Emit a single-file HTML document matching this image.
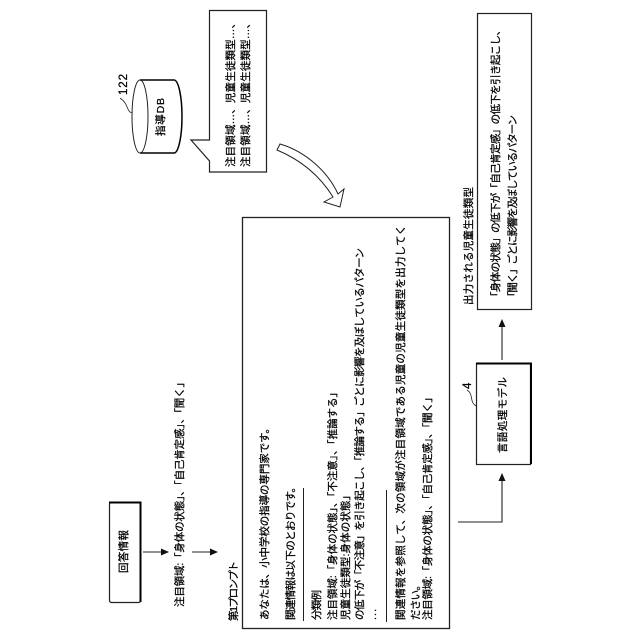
<!DOCTYPE html>
<html><head><meta charset="utf-8"><style>
html,body{margin:0;padding:0;background:#fff}
svg{display:block}
text{font-family:"Liberation Sans","Noto Sans CJK JP",sans-serif;fill:#000;stroke:#000;stroke-width:.25}
</style></head><body>
<svg width="640" height="640" viewBox="0 0 640 640" xmlns="http://www.w3.org/2000/svg">
<defs><marker id="a" markerWidth="8" markerHeight="8" refX="7" refY="3.5" orient="auto" markerUnits="userSpaceOnUse"><path d="M0,0L8,3.5L0,7Z" fill="#111"/></marker></defs>
<g fill="none" stroke="#222">
<rect x="242.5" y="217.500" width="207" height="411" stroke-width="1.3"/>
<rect x="477.5" y="13.500" width="54" height="296" stroke-width="1.2"/>
<rect x="476.5" y="363.500" width="54" height="101" stroke-width="1.2"/>
<path d="M476,363.500H531V464" stroke="#000" stroke-width="2"/>
<rect x="109.500" y="502.500" width="31" height="100" rx="2" stroke-width="1.2"/>
<path d="M109,502.500H140.500V602" stroke="#000" stroke-width="2"/>
<path d="M209.500,10.500H266.500V172H209.500V161L191,140H209.500Z" stroke-width="1.2"/>
<path d="M140,80H174A8,36.500 0 0 1 174,153H140" stroke="#000" stroke-width="1.5"/>
<ellipse cx="140" cy="116.500" rx="8" ry="36.500" stroke-width="1"/>
<path d="M132,113C126,111 129,104 120,98" stroke-width=".8"/>
<path d="M476,406C469,402 474,394 467,390" stroke-width=".8"/>
<path d="M303.500,488V621M386.500,490V622" stroke-width="1"/>
<path d="M502,360V320" stroke-width="1.1" marker-end="url(#a)"/>
<path d="M458,522H502V474" stroke-width="1.1" marker-end="url(#a)"/>
<path d="M143,552H168" stroke-width="1.1" marker-end="url(#a)"/>
<path d="M192,552H217" stroke-width="1.1" marker-end="url(#a)"/>
<path d="M280,144C304,151 327,170 338,194L344,189L340,207L324,202L333,197C320,176 301,160 277,150Z" fill="#fff" stroke-width="1"/>
</g>
<g font-size="10.500">
<text transform="translate(237,621) rotate(-90)" textLength="60" lengthAdjust="spacing">第1プロンプト</text>
<text transform="translate(268,620) rotate(-90)" textLength="197" lengthAdjust="spacing">あなたは、小中学校の指導の専門家です。</text>
<text transform="translate(294,620) rotate(-90)" textLength="138" lengthAdjust="spacing">関連情報は以下のとおりです。</text>
<text transform="translate(320,620) rotate(-90)" textLength="30" lengthAdjust="spacing">分類例</text>
<text transform="translate(336,620) rotate(-90)" textLength="233" lengthAdjust="spacing">注目領域:「身体の状態」、「不注意」、「推論する」</text>
<text transform="translate(349,620) rotate(-90)" textLength="130" lengthAdjust="spacing">児童生徒類型:身体の状態」</text>
<text transform="translate(363,620) rotate(-90)" textLength="372" lengthAdjust="spacing">の低下が「不注意」を引き起こし、「推論する」ごとに影響を及ぼしているパターン</text>
<text transform="translate(376,620) rotate(-90)" textLength="11" lengthAdjust="spacing">...</text>
<text transform="translate(404,620) rotate(-90)" textLength="395" lengthAdjust="spacing">関連情報を参照して、次の領域が注目領域である児童の児童生徒類型を出力してく</text>
<text transform="translate(419,620) rotate(-90)" textLength="40" lengthAdjust="spacing">ださい。</text>
<text transform="translate(431,620) rotate(-90)" textLength="228" lengthAdjust="spacing">注目領域:「身体の状態」、「自己肯定感」、「聞く」</text>
<text transform="translate(183,607) rotate(-90)" textLength="230" lengthAdjust="spacing">注目領域:「身体の状態」、「自己肯定感」、「聞く」</text>
<text transform="translate(472,305) rotate(-90)" textLength="118" lengthAdjust="spacing">出力される児童生徒類型</text>
<text transform="translate(499,302) rotate(-90)" textLength="277" lengthAdjust="spacing">「身体の状態」の低下が「自己肯定感」の低下を引き起こし、</text>
<text transform="translate(516,302) rotate(-90)" textLength="187" lengthAdjust="spacing">「聞く」ごとに影響を及ぼしているパターン</text>
<text transform="translate(506,453) rotate(-90)" textLength="76" lengthAdjust="spacing">言語処理モデル</text>
<text transform="translate(127,573) rotate(-90)" textLength="43" lengthAdjust="spacing">回答情報</text>
<text transform="translate(164,136) rotate(-90)" textLength="38" lengthAdjust="spacing">指導DB</text>
<text transform="translate(234,167) rotate(-90)" textLength="149" lengthAdjust="spacing">注目領域…、児童生徒類型…、</text>
<text transform="translate(249,167) rotate(-90)" textLength="149" lengthAdjust="spacing">注目領域…、児童生徒類型…、</text>
<text transform="translate(127,95) rotate(-90)" font-size="11.500" textLength="21" lengthAdjust="spacing">122</text>
<text transform="translate(471,389) rotate(-90)" font-size="11.500">4</text>
</g>
</svg>
</body></html>
